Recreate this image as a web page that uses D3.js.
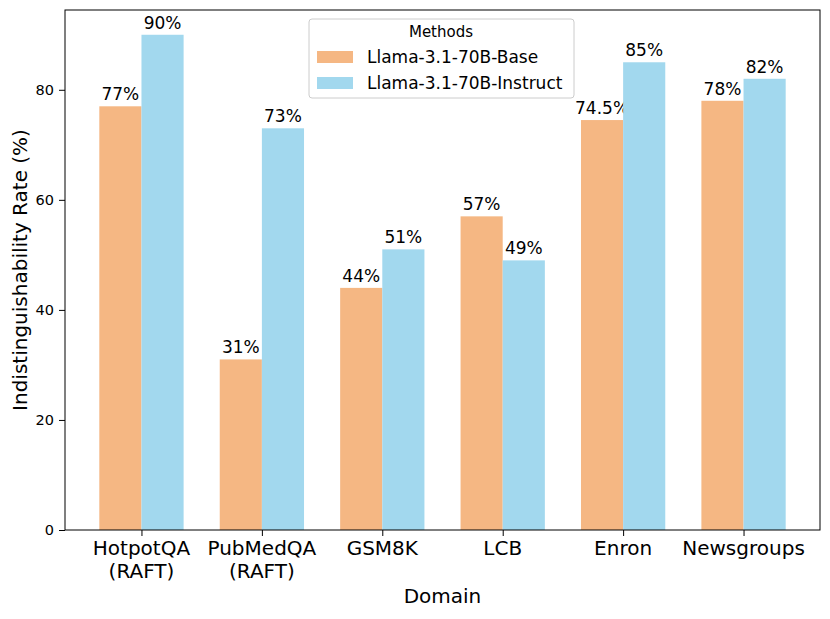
<!DOCTYPE html>
<html>
<head>
<meta charset="utf-8">
<script src="https://cdn.jsdelivr.net/npm/d3@7"></script>
<style>
  body { margin: 0; background: #fff; }
  text { font-family: "DejaVu Sans", sans-serif; fill: #000; }
</style>
</head>
<body>
<div id="chart"></div>
<script>
// Données
const domains = [["HotpotQA", "(RAFT)"], ["PubMedQA", "(RAFT)"], ["GSM8K"], ["LCB"], ["Enron"], ["Newsgroups"]];
const methods = ["Llama-3.1-70B-Base", "Llama-3.1-70B-Instruct"];
const baseValues = [77, 31, 44, 57, 74.5, 78];
const instructValues = [90, 73, 51, 49, 85, 82];
const barLabels = [
  ["77%", "31%", "44%", "57%", "74.5%", "78%"],
  ["90%", "73%", "51%", "49%", "85%", "82%"]
];
const yTicks = [0, 20, 40, 60, 80];
const colors = ["#f5b783", "#a2d8ee"];

const W = 830, H = 619;
const margin = { top: 10, right: 10, bottom: 89, left: 65 };
const width = W - margin.left - margin.right;
const height = H - margin.top - margin.bottom;

const svg = d3.select("#chart").append("svg")
  .attr("width", W).attr("height", H);
const g = svg.append("g").attr("transform", `translate(${margin.left},${margin.top})`);

// Échelles
const barW = 0.35;
const x = d3.scaleLinear().domain([-0.635, 5.635]).range([0, width]);
const y = d3.scaleLinear().domain([0, 94.5]).range([height, 0]);

const series = [baseValues, instructValues];

// Barres
series.forEach((vals, s) => {
  const off = s === 0 ? -barW : 0;
  g.selectAll(".bar-" + s).data(vals).enter().append("rect")
    .attr("x", (d, i) => x(i + off))
    .attr("y", d => y(d))
    .attr("width", x(barW) - x(0))
    .attr("height", d => y(0) - y(d))
    .attr("fill", colors[s]);

  g.selectAll(".lab-" + s).data(vals).enter().append("text")
    .attr("x", (d, i) => x(i + off + barW / 2))
    .attr("y", d => y(d) - 6)
    .attr("text-anchor", "middle")
    .style("font-size", "17px")
    .text((d, i) => barLabels[s][i]);
});

// Axes
const yAxis = g.append("g")
  .call(d3.axisLeft(y).tickValues(yTicks).tickSize(6).tickPadding(5));
yAxis.select(".domain").remove();
yAxis.selectAll("text").style("font-size", "14.5px").style("font-family", "DejaVu Sans");

const xAxis = g.append("g")
  .attr("transform", `translate(0,${height})`)
  .call(d3.axisBottom(x).tickValues(d3.range(domains.length)).tickSize(6).tickFormat(""));
xAxis.select(".domain").remove();

domains.forEach((lines, i) => {
  const t = g.append("text")
    .attr("x", x(i))
    .attr("y", height + 25)
    .attr("text-anchor", "middle")
    .style("font-size", "20px");
  lines.forEach((l, j) => {
    t.append("tspan").attr("x", x(i)).attr("dy", j === 0 ? 0 : 23).text(l);
  });
});

// Cadre
g.append("rect")
  .attr("width", width).attr("height", height)
  .attr("fill", "none").attr("stroke", "#000").attr("stroke-width", 1);

// Labels des axes
g.append("text")
  .attr("x", width / 2).attr("y", height + 73)
  .attr("text-anchor", "middle")
  .style("font-size", "20px")
  .text("Domain");

g.append("text")
  .attr("transform", "rotate(-90)")
  .attr("x", -height / 2).attr("y", -38)
  .attr("text-anchor", "middle")
  .style("font-size", "20px")
  .text("Indistinguishability Rate (%)");

// Légende
const legend = svg.append("g").attr("transform", "translate(309,19)");
legend.append("rect")
  .attr("width", 265).attr("height", 79).attr("rx", 3)
  .attr("fill", "#fff").attr("fill-opacity", 0.8)
  .attr("stroke", "#ccc");
legend.append("text")
  .attr("x", 132).attr("y", 18)
  .attr("text-anchor", "middle")
  .style("font-size", "15px")
  .text("Methods");
methods.forEach((m, i) => {
  legend.append("rect")
    .attr("x", 8).attr("y", 32 + i * 26)
    .attr("width", 36).attr("height", 12)
    .attr("fill", colors[i]);
  legend.append("text")
    .attr("x", 58).attr("y", 44 + i * 26)
    .style("font-size", "17px")
    .text(m);
});
</script>
</body>
</html>
